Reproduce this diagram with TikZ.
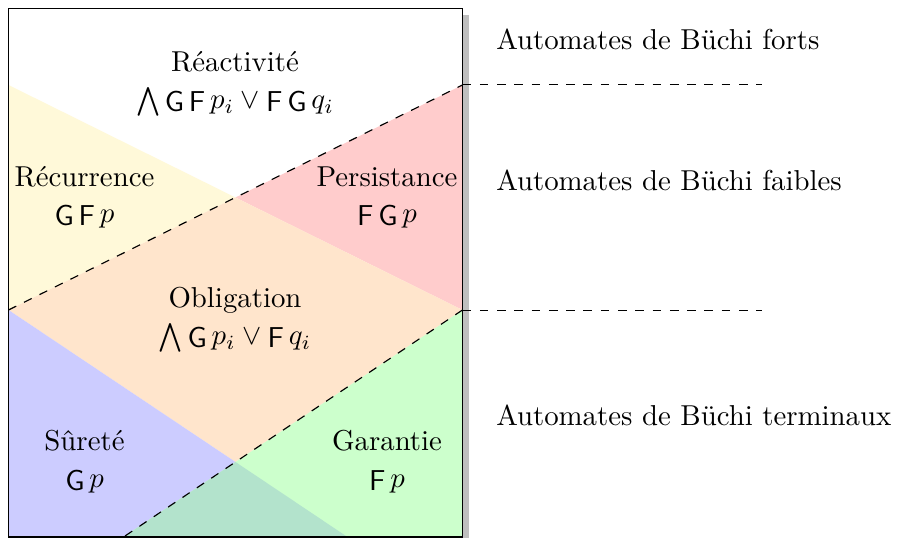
\documentclass[tikz,border=0pt]{standalone}
\usepackage{amsmath}
\newcommand{\opG}{\mathop{\mathsf{G}}}
\newcommand{\opF}{\mathop{\mathsf{F}}}
\definecolor{recfill}{RGB}{255,249,217}
\definecolor{perfill}{RGB}{255,204,204}
\definecolor{oblfill}{RGB}{255,229,204}
\definecolor{surfill}{RGB}{204,204,255}
\definecolor{garfill}{RGB}{204,255,204}
\definecolor{mixfill}{RGB}{179,227,204}
\begin{document}
\begin{tikzpicture}[x=0.3472pt,y=-0.3472pt,
  region/.style={align=center,inner sep=0pt,anchor=base},
  side/.style={anchor=base west,inner sep=0pt},
  levelline/.style={dashed}]
\useasboundingbox (0,0) rectangle (898,538);
% corners and key points
\coordinate (TL) at (8.5,8.5);
\coordinate (BR) at (462.5,537);
\coordinate (L1) at (8.5,85);
\coordinate (L2) at (8.5,310);
\coordinate (R1) at (462.5,85);
\coordinate (R2) at (462.5,310);
\coordinate (P1) at (235.5,197.5);
\coordinate (P2) at (235.5,462);
\coordinate (BL) at (8.5,537);
\coordinate (BRc) at (462.5,537);
\coordinate (B1) at (123.5,537);
\coordinate (B2) at (347.5,537);
\coordinate (E1) at (762,84.5);
\coordinate (E2) at (762,310.5);
\coordinate (S1) at (462.5,84.5);
\coordinate (S2) at (462.5,310.5);
% shadow
\fill[black!25] (15,15) rectangle (469,538);
\fill[white] (TL) rectangle (BR);
% regions
\fill[recfill] (L1) -- (P1) -- (L2) -- cycle;
\fill[perfill] (R1) -- (P1) -- (R2) -- cycle;
\fill[oblfill] (L2) -- (P1) -- (R2) -- (P2) -- cycle;
\fill[surfill] (L2) -- (B2) -- (BL) -- cycle;
\fill[garfill] (R2) -- (BRc) -- (B1) -- cycle;
\fill[mixfill] (B1) -- (P2) -- (B2) -- cycle;
% dashed boundaries
\draw[levelline] (L2) -- (R1);
\draw[levelline] (R2) -- (B1);
\draw[levelline] (S1) -- (E1);
\draw[levelline] (S2) -- (E2);
% frame
\draw (TL) rectangle (BR);
% labels (anchor base = baseline of the last line)
\node[region] (reac) at (235,109) {Réactivité\\[1pt]$\bigwedge \opG\opF p_i \vee \opF\opG q_i$};
\node[region] (recu) at (84.5,223) {Récurrence\\[0.7pt]$\opG\opF p$};
\node[region] (pers) at (387,223) {Persistance\\[0.7pt]$\opF\opG p$};
\node[region] (obli) at (235,345) {Obligation\\[1pt]$\bigwedge \opG p_i \vee \opF q_i$};
\node[region] (sure) at (84.5,487.5) {Sûreté\\[0.7pt]$\opG p$};
\node[region] (gara) at (387,487.5) {Garantie\\[0.7pt]$\opF p$};
\node[side] (forts) at (495.7,50) {Automates de Büchi forts};
\node[side] (faib) at (495.7,190.7) {Automates de Büchi faibles};
\node[side] (term) at (495.7,426) {Automates de Büchi terminaux};
\end{tikzpicture}
\end{document}
